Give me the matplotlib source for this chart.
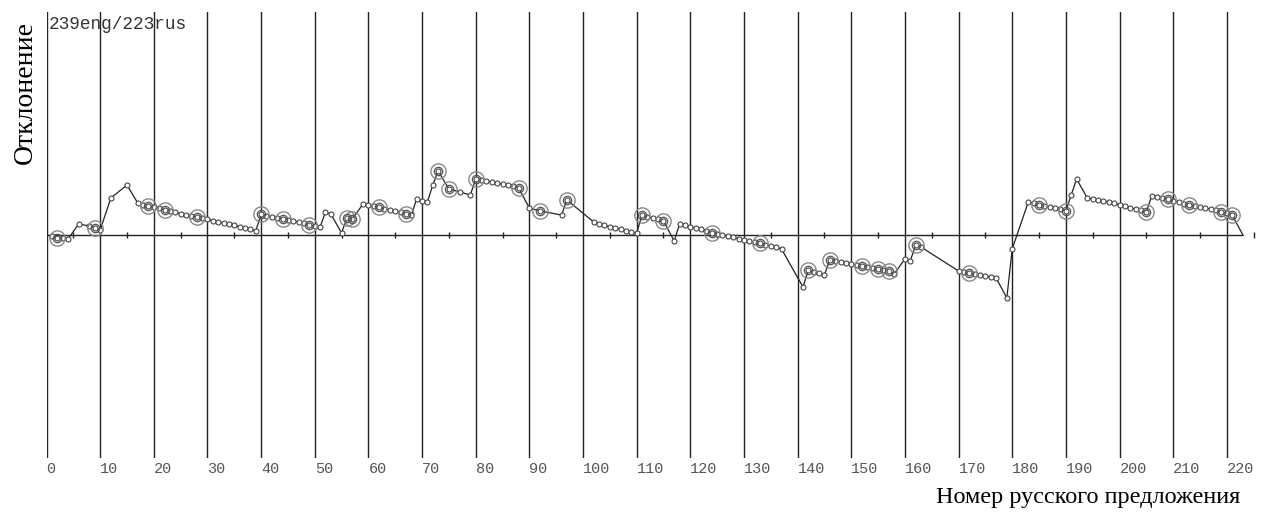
import numpy as np
import matplotlib.pyplot as plt

# number of russian sentence and deviation from the diagonal
rus_x = [0, 1, 2, 3, 4, 6, 8, 9, 10, 12, 15, 17, 18, 19, 20, 21, 22, 23, 24, 25,
         26, 27, 28, 29, 30, 31, 32, 33, 34, 35, 36, 37, 38, 39, 40, 41, 42, 43, 44, 45,
         46, 47, 48, 49, 50, 51, 52, 53, 55, 56, 57, 59, 60, 61, 62, 63, 64, 65, 66, 67,
         68, 69, 70, 71, 72, 73, 75, 77, 79, 80, 81, 82, 83, 84, 85, 86, 87, 88, 90, 92,
         96, 97, 102, 103, 104, 105, 106, 107, 108, 109, 110, 111, 112, 113, 114, 115, 117, 118, 119, 120,
         121, 122, 123, 124, 125, 126, 127, 128, 129, 130, 131, 132, 133, 134, 135, 136, 137, 141, 142, 143,
         144, 145, 146, 147, 148, 149, 150, 151, 152, 153, 154, 155, 156, 157, 158, 160, 161, 162, 163, 170,
         171, 172, 173, 174, 175, 176, 177, 179, 180, 183, 184, 185, 186, 187, 188, 189, 190, 191, 192, 194,
         195, 196, 197, 198, 199, 200, 201, 202, 203, 204, 205, 206, 207, 208, 209, 210, 211, 212, 213, 214,
         215, 216, 217, 218, 219, 220, 221, 223]
deviation = [0, -1, -3, -3, -4, 11, 9, 7, 5, 37, 50, 32, 30, 29, 28, 27, 25, 24, 23, 21,
             20, 19, 18, 17, 16, 14, 13, 12, 11, 10, 8, 7, 6, 4, 21, 19, 18, 17, 16, 15,
             14, 13, 12, 10, 9, 8, 23, 21, 2, 17, 16, 31, 30, 29, 28, 26, 25, 24, 23, 21,
             20, 36, 34, 33, 50, 64, 46, 43, 40, 56, 55, 54, 53, 52, 51, 50, 49, 47, 27, 24,
             20, 35, 13, 11, 10, 8, 7, 6, 4, 3, 2, 20, 18, 17, 16, 14, -6, 11, 10, 8,
             7, 6, 4, 2, 1, 0, -1, -2, -4, -5, -6, -7, -8, -10, -11, -12, -14, -52, -35, -37,
             -38, -40, -25, -26, -27, -28, -29, -30, -31, -32, -33, -34, -35, -36, -39, -24, -26, -10, -12, -36,
             -37, -38, -39, -40, -41, -42, -43, -63, -14, 33, 32, 30, 29, 28, 27, 26, 24, 40, 56, 37,
             36, 35, 34, 33, 32, 30, 29, 27, 26, 25, 23, 39, 38, 37, 36, 34, 33, 31, 30, 29,
             28, 27, 26, 25, 23, 22, 20, 0]
# sentences marked with the double circle
anchors = [2, 9, 19, 22, 28, 40, 44, 49, 56, 57, 62, 67, 73, 75, 80, 88, 92, 97,
           111, 115, 124, 133, 142, 146, 152, 155, 157, 162, 172, 185, 190, 205,
           209, 213, 219, 221]
n_rus = 223
grid_x = list(range(0, 230, 10))

x = np.array(rus_x)
y = np.array(deviation)
anch_y = y[np.isin(x, anchors)]

W, H = 1267, 514
fig = plt.figure(figsize=(W / 100, H / 100), dpi=100)
px_per_unit = 5.365
left, right, top, bottom = 46.5, 1262, 12, 458
ax = fig.add_axes([left / W, (H - bottom) / H, (right - left) / W, (bottom - top) / H])
ax.set_xlim(0, (right - left) / px_per_unit)
ax.set_ylim(-223, 223)
for s in ax.spines.values():
    s.set_visible(False)
ax.set_yticks([])

for g in grid_x:
    ax.axvline(g, color='#222222', lw=1.0, zorder=1)
ax.hlines(0, 0, n_rus, color='#222222', lw=1.0, zorder=1)
ax.vlines(np.arange(5, 230, 10), -3, 3, color='#222222', lw=1.0, zorder=1)

ax.plot(x, y, color='#222222', lw=0.9, zorder=2)
ax.plot(x[1:-1], y[1:-1], 'o', ms=3.6, mfc='white', mec='#444444', mew=0.8, zorder=3)
ax.plot(anchors, anch_y, 'o', ms=11, mfc='none', mec='#888888', mew=1.0, zorder=4)
ax.plot(anchors, anch_y, 'o', ms=6, mfc='none', mec='#555555', mew=0.9, zorder=4)

ax.set_xticks(grid_x)
ax.set_xticklabels([str(g) for g in grid_x], family='Liberation Mono', fontsize=11, color='#555555')
for lbl in ax.get_xticklabels():
    lbl.set_horizontalalignment('left')
ax.tick_params(axis='x', length=0, pad=3)

ax.text(0.5, 219, '239eng/223rus', family='Liberation Mono', fontsize=12.8,
        color='#333333', va='top', ha='left')
fig.text(25 / W, 1 - 93 / H, 'Отклонение', family='Liberation Serif', fontsize=20,
         rotation=90, ha='center', va='center')
fig.text(1240 / W, 1 - 497 / H, 'Номер русского предложения', family='Liberation Serif',
         fontsize=17.5, ha='right', va='center')

fig.savefig('out.png', dpi=100)
